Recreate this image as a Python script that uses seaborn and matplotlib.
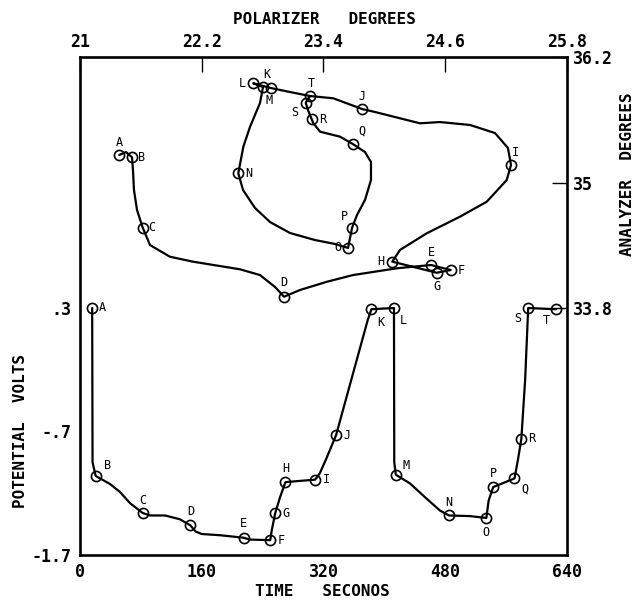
import matplotlib
matplotlib.use("Agg")
import matplotlib.pyplot as plt
import seaborn as sns
import pandas as pd

# ---------------- data ----------------
point_names = list("ABCDEFGHIJKLMNOPQRST")

# lower panel: potential (volts) vs time (seconds)
pot_time = [16, 20.6, 82.4, 145, 215, 250, 256.6, 270, 309, 336.5,
            383, 412.6, 415, 485, 534, 543, 571, 580, 589, 625.5]
pot_volt = [0.30, -1.06, -1.36, -1.46, -1.56, -1.58, -1.36, -1.11, -1.09, -0.73,
            0.29, 0.30, -1.05, -1.38, -1.40, -1.15, -1.08, -0.76, 0.30, 0.29]

pot_curve_time = [16, 16.5, 20.6, 39.4, 52.6, 65.7, 82.4, 92, 111.7, 131, 145,
                  152, 160, 184, 215, 223, 250, 252, 256.6, 263, 270, 289, 309,
                  315, 323, 336.5, 378, 383, 412.6, 413, 415, 433.6, 453, 473,
                  485, 512.5, 534, 537, 543, 571, 575.5, 580, 585, 589, 625.5]
pot_curve_volt = [0.30, -0.95, -1.06, -1.125, -1.19, -1.28, -1.36, -1.38, -1.38,
                  -1.41, -1.46, -1.51, -1.53, -1.54, -1.56, -1.575, -1.58, -1.50,
                  -1.36, -1.23, -1.11, -1.10, -1.09, -1.04, -0.93, -0.73, 0.20,
                  0.29, 0.30, -0.95, -1.05, -1.12, -1.23, -1.34, -1.38, -1.385,
                  -1.40, -1.26, -1.15, -1.08, -0.93, -0.76, -0.28, 0.30, 0.29]

# upper panel: analyzer degrees vs polarizer degrees
ell_pol = [21.387, 21.513, 21.618, 23.011, 24.460, 24.654, 24.516, 24.078, 25.248,
           23.782, 22.883, 22.708, 22.804, 22.560, 23.642, 23.681, 23.694, 23.284,
           23.225, 23.267]
ell_ana = [35.263, 35.241, 34.568, 33.908, 34.211, 34.163, 34.137, 34.243, 35.167,
           35.702, 35.903, 35.948, 35.913, 35.088, 34.374, 34.565, 35.365, 35.604,
           35.763, 35.827]

ell_curve_pol = [21.387, 21.453, 21.513, 21.522, 21.532, 21.562, 21.618, 21.690,
                 21.887, 22.114, 22.577, 22.774, 22.922, 23.011, 23.168, 23.434,
                 23.691, 24.125, 24.460, 24.654, 24.516, 24.078, 24.154, 24.417,
                 24.745, 25.009, 25.206, 25.248, 25.218, 25.090, 24.844, 24.548,
                 24.351, 24.105, 23.908, 23.782, 23.497, 23.267, 23.070, 22.883,
                 22.708, 22.804, 22.774, 22.676, 22.610, 22.560, 22.607, 22.725,
                 22.873, 23.070, 23.316, 23.513, 23.642, 23.681, 23.730, 23.809,
                 23.868, 23.868, 23.809, 23.694, 23.563, 23.366, 23.300, 23.284,
                 23.247, 23.225, 23.267]
ell_curve_ana = [35.263, 35.291, 35.241, 35.119, 34.928, 34.737, 34.568, 34.402,
                 34.290, 34.243, 34.170, 34.115, 34.001, 33.908, 33.972, 34.051,
                 34.115, 34.180, 34.211, 34.163, 34.137, 34.243, 34.355, 34.514,
                 34.673, 34.816, 35.024, 35.167, 35.330, 35.473, 35.550, 35.578,
                 35.566, 35.626, 35.674, 35.702, 35.805, 35.827, 35.865, 35.903,
                 35.948, 35.913, 35.760, 35.533, 35.342, 35.088, 34.928, 34.756,
                 34.622, 34.517, 34.450, 34.412, 34.374, 34.565, 34.689, 34.833,
                 35.024, 35.196, 35.291, 35.365, 35.438, 35.486, 35.566, 35.604,
                 35.693, 35.763, 35.827]

time_ticks = [0, 160, 320, 480, 640]
volt_ticks = [0.3, -0.7, -1.7]
volt_ticklabels = [".3", "-.7", "-1.7"]
pol_ticks = [21, 22.2, 23.4, 24.6, 25.8]
pol_ticklabels = ["21", "22.2", "23.4", "24.6", "25.8"]
ana_ticks = [33.8, 35, 36.2]
ana_ticklabels = ["33.8", "35", "36.2"]

# label offsets (pixels) and alignment -- styling only
pot_offsets = {"A": (7, 0, "left"), "B": (8, 10, "left"), "C": (0, 13, "center"),
               "D": (0, 14, "center"), "E": (0, 14, "center"), "F": (7, 0, "left"),
               "G": (7, 0, "left"), "H": (0, 14, "center"), "I": (8, 0, "left"),
               "J": (7, 0, "left"), "K": (9, -13, "center"), "L": (9, -13, "center"),
               "M": (10, 9, "center"), "N": (0, 13, "center"), "O": (0, -15, "center"),
               "P": (0, 14, "center"), "Q": (10, -11, "center"), "R": (7, 0, "left"),
               "S": (-10, -11, "center"), "T": (-10, -11, "center")}
ell_offsets = {"A": (0, 12, "center"), "B": (6, 0, "left"), "C": (6, 0, "left"),
               "D": (0, 14, "center"), "E": (0, 13, "center"), "F": (7, 0, "left"),
               "G": (0, -14, "center"), "H": (-8, 0, "right"), "I": (4, 13, "center"),
               "J": (0, 13, "center"), "K": (-4, 14, "center"), "L": (-7, 0, "right"),
               "M": (6, -13, "center"), "N": (7, 0, "left"), "O": (-7, 0, "right"),
               "P": (-8, 11, "center"), "Q": (9, 13, "center"), "R": (7, 0, "left"),
               "S": (-11, -10, "center"), "T": (1, 13, "center")}

# ---------------- style ----------------
sns.set_theme(style="white")
plt.rcParams["font.family"] = ["DejaVu Sans Mono", "DejaVu Sans"]
plt.rcParams["axes.linewidth"] = 1.9
plt.rcParams["text.color"] = "black"
plt.rcParams["xtick.color"] = "black"
plt.rcParams["ytick.color"] = "black"
plt.rcParams["axes.edgecolor"] = "black"

fig = plt.figure(figsize=(6.39, 6.03), dpi=100)
rect = [80 / 639, 1 - 555 / 603, 487 / 639, 498 / 603]
ax = fig.add_axes(rect)
ax2 = fig.add_axes(rect)
ax2.patch.set_visible(False)

LW = 1.6
MS = 7.3

pot_curve = pd.DataFrame({"t": pot_curve_time, "v": pot_curve_volt})
pot_pts = pd.DataFrame({"t": pot_time, "v": pot_volt, "name": point_names})
sns.lineplot(data=pot_curve, x="t", y="v", sort=False, color="black", lw=LW,
             ax=ax, estimator=None)
ax.plot(pot_pts["t"], pot_pts["v"], "o", ms=MS, mfc="none", mec="black", mew=1.2)

ell_curve = pd.DataFrame({"p": ell_curve_pol, "a": ell_curve_ana})
ell_pts = pd.DataFrame({"p": ell_pol, "a": ell_ana, "name": point_names})
sns.lineplot(data=ell_curve, x="p", y="a", sort=False, color="black", lw=LW,
             ax=ax2, estimator=None)
ax2.plot(ell_pts["p"], ell_pts["a"], "o", ms=MS, mfc="none", mec="black", mew=1.2)

for _, r in pot_pts.iterrows():
    dx, dy, ha = pot_offsets[r["name"]]
    ax.annotate(r["name"], (r["t"], r["v"]), xytext=(dx, dy),
                textcoords="offset pixels", ha=ha, va="center", fontsize=8.5,
                color="black")
for _, r in ell_pts.iterrows():
    dx, dy, ha = ell_offsets[r["name"]]
    ax2.annotate(r["name"], (r["p"], r["a"]), xytext=(dx, dy),
                 textcoords="offset pixels", ha=ha, va="center", fontsize=8.5,
                 color="black")

# axes ranges: volts occupy lower half, analyzer the upper half
ax.set_xlim(0, 640)
ax.set_ylim(-1.7, 0.3 + 2.0 * 251 / 247)
ax2.set_xlim(21, 25.8)
ax2.set_ylim(33.8 - 2.4 * 247 / 251, 36.2)

tick_font = dict(fontsize=12, fontweight="bold")
ax.set_xticks(time_ticks)
ax.set_xticklabels([str(t) for t in time_ticks], **tick_font)
ax.set_yticks(volt_ticks)
ax.set_yticklabels(volt_ticklabels, **tick_font)
ax.tick_params(axis="both", direction="in", length=11, width=1.0, pad=6,
               top=False, right=False, color="black")

ax2.xaxis.tick_top()
ax2.yaxis.tick_right()
ax2.set_xticks(pol_ticks)
ax2.set_xticklabels(pol_ticklabels, **tick_font)
ax2.set_yticks(ana_ticks)
ax2.set_yticklabels(ana_ticklabels, **tick_font)
ax2.tick_params(axis="both", direction="in", length=11, width=1.0, pad=4,
                bottom=False, left=False, color="black")
for s in ax2.spines.values():
    s.set_visible(False)

ax.set_xlabel("")
ax.set_ylabel("")
ax2.set_xlabel("")
ax2.set_ylabel("")

lab_font = dict(fontsize=11.5, fontweight="bold", color="black")
fig.text(324 / 639, 1 - 19 / 603, "POLARIZER   DEGREES", ha="center", va="center", **lab_font)
fig.text(322 / 639, 1 - 592 / 603, "TIME   SECONOS", ha="center", va="center", **lab_font)
fig.text(21 / 639, 1 - 431 / 603, "POTENTIAL  VOLTS", ha="center", va="center",
         rotation=90, **lab_font)
fig.text(628 / 639, 1 - 174 / 603, "ANALYZER  DEGREES", ha="center", va="center",
         rotation=90, **lab_font)

fig.savefig("out.png", dpi=100)
